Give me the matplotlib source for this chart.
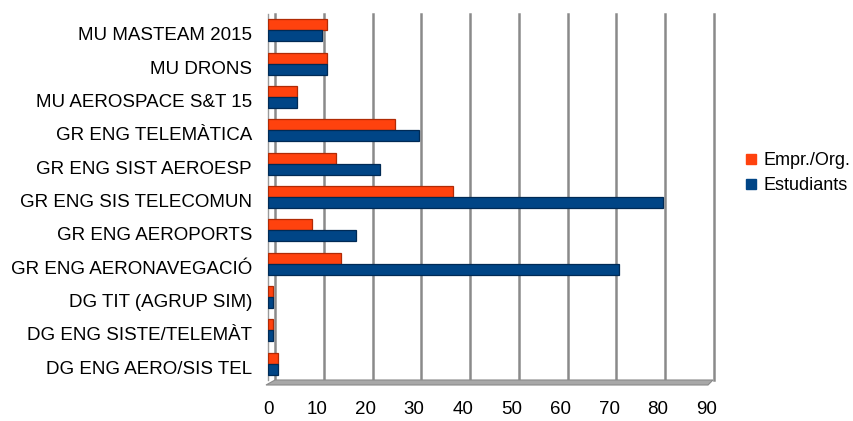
import matplotlib
matplotlib.use("Agg")
import matplotlib.pyplot as plt
from matplotlib.lines import Line2D
from matplotlib.patches import Polygon
from matplotlib.transforms import ScaledTranslation
import numpy as np

categories = ["DG ENG AERO/SIS TEL", "DG ENG SISTE/TELEMÀT", "DG TIT (AGRUP SIM)",
              "GR ENG AERONAVEGACIÓ", "GR ENG AEROPORTS", "GR ENG SIS TELECOMUN",
              "GR ENG SIST AEROESP", "GR ENG TELEMÀTICA", "MU AEROSPACE S&T 15",
              "MU DRONS", "MU MASTEAM 2015"]
empr_org = [2, 1, 1, 15, 9, 38, 14, 26, 6, 12, 12]
estudiants = [2, 1, 1, 72, 18, 81, 23, 31, 6, 12, 11]
series_names = ["Empr./Org.", "Estudiants"]
xticks = [0, 10, 20, 30, 40, 50, 60, 70, 80, 90]

plt.rcParams['font.family'] = ['Liberation Sans', 'DejaVu Sans']

W, H = 854, 421
fig = plt.figure(figsize=(W / 100, H / 100), dpi=100)
left_px, right_px, top_px, bot_px = 268, 706.75, 13.5, 380.3
ax = fig.add_axes([left_px / W, 1 - bot_px / H, (right_px - left_px) / W, (bot_px - top_px) / H])
ax.set_xlim(0, 90)
ax.set_ylim(-0.5, 10.5)

orange = "#FF420E"
orange_dk = "#B02A05"
blue = "#004586"
blue_dk = "#002A55"

# back wall gridlines (offset to the back plane)
back = ScaledTranslation(0.07, 0, fig.dpi_scale_trans)
for v in xticks:
    ln = ax.axvline(v, color="#8a8a8a", lw=1.8, zorder=1)
    ln.set_transform(ax.get_xaxis_transform() + back)
    ln.set_clip_on(False)

y = np.arange(len(categories))
h = 0.33
ax.barh(y + h / 2, empr_org, height=h, color=orange, edgecolor=orange_dk, lw=0.9, zorder=3)
ax.barh(y - h / 2, estudiants, height=h, color=blue, edgecolor=blue_dk, lw=0.9, zorder=3)

for s in ["top", "right", "bottom"]:
    ax.spines[s].set_visible(False)
ax.spines["left"].set_color("#9a9a9a")
ax.spines["left"].set_linewidth(1.0)

# floor strip
def fp(x, yy):
    return (x / W, 1 - yy / H)
floor = Polygon([fp(266, 385), fp(708, 385), fp(713, 380), fp(275, 380)],
                closed=True, transform=fig.transFigure, facecolor="#a8a8a8",
                edgecolor="#8a8a8a", lw=0.8, zorder=0)
fig.patches.append(floor)

ax.set_xticks(xticks)
ax.set_xticklabels([str(t) for t in xticks])
ax.set_yticks(y)
ax.set_yticklabels(categories)
ax.tick_params(axis="x", length=0, pad=15.0, labelsize=13.5)
ax.tick_params(axis="y", length=0, pad=11.5, labelsize=13.5)
down = ScaledTranslation(0, -0.035, fig.dpi_scale_trans)
for lab in ax.get_yticklabels():
    lab.set_transform(lab.get_transform() + down)

handles = [Line2D([], [], marker="s", ls="none", color=orange, markersize=7.2),
           Line2D([], [], marker="s", ls="none", color=blue, markersize=7.2)]
fig.legend(handles, series_names, loc="center left",
           bbox_to_anchor=(735 / W, 1 - 173 / H), frameon=False, fontsize=13,
           handlelength=0.8, handletextpad=0.3, labelspacing=0.45, borderpad=0)

fig.savefig("out.png", dpi=100)
